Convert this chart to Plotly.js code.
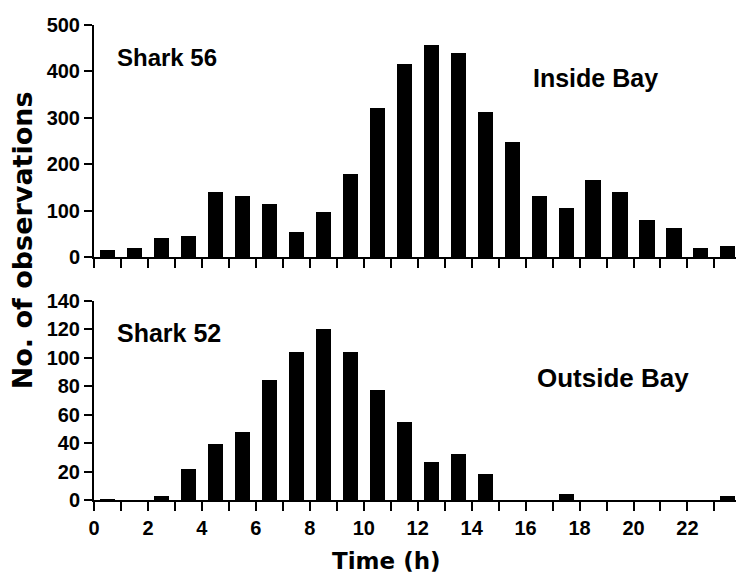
<!DOCTYPE html>
<html>
<head>
<meta charset="utf-8">
<script src="https://cdn.plot.ly/plotly-3.0.1.min.js"></script>
<style>html,body{margin:0;padding:0;background:#fff;}#chart{width:736px;height:579px;}</style>
</head>
<body>
<div id="chart"></div>
<script>
// Hour-of-day bins (bar centres at half hours)
const hours = [0.5,1.5,2.5,3.5,4.5,5.5,6.5,7.5,8.5,9.5,10.5,11.5,12.5,13.5,14.5,15.5,16.5,17.5,18.5,19.5,20.5,21.5,22.5,23.5];
// Shark 56 – Inside Bay
const shark56 = [15,19,41,45,140,131,114,54,97,179,321,416,457,440,312,248,131,106,166,140,80,62,19,24];
// Shark 52 – Outside Bay
const shark52 = [1,0,3,22,39,48,84,104,120,104,77,55,27,32,18,0,0,4,0,0,0,0,0,3];
const xTickVals = [0,2,4,6,8,10,12,14,16,18,20,22];
const xTickText = ['0','2','4','6','8','10','12','14','16','18','20','22'];

const tickFont = {family:'Liberation Sans, Arial, sans-serif', size:20, color:'#000', weight:'bold'};
const annFont = (s)=>({family:'Liberation Sans, Arial, sans-serif', size:s, color:'#000', weight:'bold'});

const traces = [
  {type:'bar', x:hours, y:shark56, xaxis:'x', yaxis:'y', width:0.56,
   marker:{color:'#000', line:{width:0}}, showlegend:false, hoverinfo:'x+y'},
  {type:'bar', x:hours, y:shark52, xaxis:'x2', yaxis:'y2', width:0.56,
   marker:{color:'#000', line:{width:0}}, showlegend:false, hoverinfo:'x+y'}
];

const xCommon = {range:[0,23.8], showgrid:false, zeroline:false, showline:true, linecolor:'#000', linewidth:2,
  ticks:'outside', ticklen:9, tickwidth:2, tickcolor:'#000'};
const yCommon = {showgrid:false, zeroline:false, showline:true, linecolor:'#000', linewidth:2,
  ticks:'outside', ticklen:8, tickwidth:2, tickcolor:'#000', tickfont:tickFont};

const layout = {
  width:736, height:579,
  margin:{l:94, r:0, t:25, b:79},
  paper_bgcolor:'#fff', plot_bgcolor:'#fff',
  bargap:0,
  xaxis: Object.assign({}, xCommon, {anchor:'y', domain:[0,1], tickmode:'linear', tick0:0, dtick:1, showticklabels:false}),
  yaxis: Object.assign({}, yCommon, {anchor:'x', domain:[0.5116,1], range:[0,500], tickmode:'linear', tick0:0, dtick:100}),
  xaxis2: Object.assign({}, xCommon, {anchor:'y2', domain:[0,1], tickmode:'array', tickvals:xTickVals, ticktext:xTickText,
    tickfont:tickFont,
    minor:{tickmode:'linear', tick0:0, dtick:1, ticks:'outside', ticklen:9, tickwidth:2, tickcolor:'#000', showgrid:false}}),
  yaxis2: Object.assign({}, yCommon, {anchor:'x2', domain:[0,0.4196], range:[0,140], tickmode:'linear', tick0:0, dtick:20}),
  annotations:[
    {text:'No. of observations', xref:'paper', yref:'paper', x:-0.112, y:0.547, xanchor:'center', yanchor:'middle',
     textangle:-90, showarrow:false, font:{family:'DejaVu Sans, sans-serif', size:27, color:'#000', weight:'bold'}},
    {text:'Time (h)', xref:'paper', yref:'paper', x:0.455, y:-0.128, xanchor:'center', yanchor:'middle',
     showarrow:false, font:{family:'DejaVu Sans, sans-serif', size:23, color:'#000', weight:'bold'}},
    {text:'Shark 56', xref:'x', yref:'y', x:0.78, y:429, xanchor:'left', yanchor:'middle', showarrow:false, font:annFont(24)},
    {text:'Inside Bay', xref:'x', yref:'y', x:16.2, y:386, xanchor:'left', yanchor:'middle', showarrow:false, font:annFont(25)},
    {text:'Shark 52', xref:'x2', yref:'y2', x:0.78, y:117, xanchor:'left', yanchor:'middle', showarrow:false, font:annFont(25)},
    {text:'Outside Bay', xref:'x2', yref:'y2', x:16.35, y:86, xanchor:'left', yanchor:'middle', showarrow:false, font:annFont(26)}
  ]
};

Plotly.newPlot('chart', traces, layout, {displayModeBar:false, staticPlot:true});
</script>
</body>
</html>
